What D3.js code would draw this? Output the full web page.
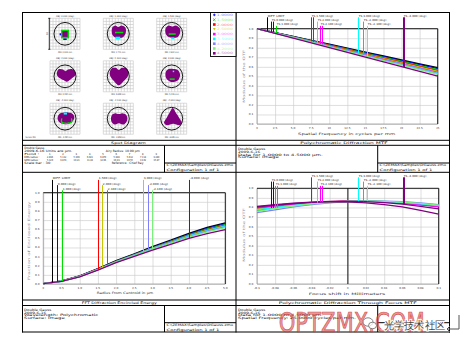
<!DOCTYPE html>
<html>
<head>
<meta charset="utf-8">
<script src="https://cdn.jsdelivr.net/npm/d3@7"></script>
<style>
body { margin: 0; background: #fff; }
svg { display: block; }
text { font-family: "DejaVu Sans", "Liberation Sans", sans-serif; }
</style>
</head>
<body>
<svg id="chart" width="464" height="347"></svg>
<script>
// field / wavelength data
var fieldColors = ['#0000ff', '#00dd00', '#ff0000', '#c8c800', '#ff00ff', '#00ffff', '#8080ff', '#7cf07c', '#800080'];
var fieldAngles = ['0.000', '1.000', '1.500', '2.000', '2.100', '3.000', '-2.000', '-2.100', '-4.000'];
var imageHeights = ['0.000', '1.741', '2.612', '3.484', '3.658', '5.229', '-3.484', '-3.658', '-6.985'];
var wavelengths = ['1.0000', '1.5000', '2.0000', '2.5000', '3.0000', '3.5000', '4.0000', '4.2000', '4.5000'];
var legendSymbols = ['plus', 'cross', 'square', 'triangle', 'square', 'square', 'square', 'square', 'square'];
var rmsRadius = ['2.836', '5.112', '5.309', '6.021', '6.870', '5.998', '5.612', '7.114', '9.240'];
var geoRadius = ['5.120', '9.874', '10.21', '11.43', '12.66', '10.93', '10.55', '13.02', '15.87'];
var airyRadius = 10.99;
var scaleBar = 30;

// spot outlines in micrometres (x right, y up), w = wavelength index
var spotShapes = [
    [
        {w: 0, pts: [[-5.4, 0.5], [-3.7, 0.5], [-3.7, -1.5], [-5.4, -1.5]]},
        {w: 0, pts: [[-1.7, -4.3], [1.7, -4.3], [1.7, -6], [-1.7, -6]]},
        {w: 1, pts: [[-4, 4], [4, 4], [4, -4.5], [-4, -4.5]]},
        {w: 8, pts: [[-2.6, 2.6], [2.6, 2.6], [2.6, -3], [-2.6, -3]]}
    ],
    [
        {w: 8, pts: [[-6, 6], [-3, 8], [0, 6.5], [3, 8], [7, 6], [7.5, 1], [5, -3], [1, -4], [-3, -3.5], [-6, -1]]},
        {w: 1, pts: [[-3.3, 2], [5, 2], [5, 0.5], [-3.3, 0.5]]},
        {w: 5, pts: [[-2.8, -2.8], [2, -2.8], [2, -5.5], [-2.8, -5.5]]}
    ],
    [
        {w: 8, pts: [[-6, 5.5], [-3, 8], [1, 7], [4, 8], [8, 5.5], [8.3, 0.5], [6, -3], [1.5, -3.8], [-3, -3.2], [-6, 0]]},
        {w: 1, pts: [[-3, 0.5], [4, 0.5], [4, -1], [-3, -1]]},
        {w: 5, pts: [[-0.5, -3.5], [2.5, -3.5], [2.5, -5], [-0.5, -5]]}
    ],
    [
        {w: 8, pts: [[-8, 4], [-6, 7], [-2, 6.5], [0.5, 5], [3, 6.5], [7, 7], [10, 4.5], [10.3, 1], [7, -2], [2, -5.3], [0, -4.5], [-5, -2], [-8, 1]]}
    ],
    [
        {w: 8, pts: [[-8.3, 5], [-6, 8], [-2, 8], [0.5, 6], [3, 8], [7.5, 8], [10, 5], [9.5, 0], [5, -5], [0.5, -8.7], [-4, -5], [-8, 0]]}
    ],
    [
        {w: 8, pts: [[-6, 4], [-3, 7], [2, 7], [6, 6], [8.3, 2], [7, -3], [3, -5.3], [-2, -5], [-5.5, -2]]},
        {w: 1, pts: [[-2, -2], [3, -2], [3, -3.5], [-2, -3.5]]},
        {w: 5, pts: [[1, 5.5], [2.5, 5.5], [2.5, 4], [1, 4]]}
    ],
    [
        {w: 8, pts: [[-7.3, 2], [-5, 5], [-1, 6], [3, 6], [7, 5], [9.3, 2], [8, -2], [4, -5], [0, -5.3], [-4, -4.5], [-7, -1.5]]},
        {w: 1, pts: [[-3.7, 0.3], [-2.7, 0.3], [-2.7, -3], [6, -3], [6, 0.3], [7, 0.3], [7, -4], [-3.7, -4]]},
        {w: 5, pts: [[-1.3, 6], [2, 6], [2, 4], [-1.3, 4]]}
    ],
    [
        {w: 8, pts: [[-7.3, 1], [-6, 4], [-3, 5.3], [0.5, 4.5], [4, 5.3], [7.5, 4], [9, 1], [8, -3.5], [5, -5.7], [0.5, -4.5], [-3.5, -5.7], [-6.5, -3.5]]}
    ],
    [
        {w: 8, pts: [[1, 10.3], [4, 6], [8, 0], [10, -4], [8, -6.3], [1.5, -5], [-5, -6.3], [-7.7, -4], [-5, 1], [-2, 6]]}
    ]
];

// polychromatic MTF
var mtfFreq = [0, 2.5, 5, 7.5, 10, 12.5, 15, 17.5, 20, 22.5, 25];
var mtfTickText = ['0', '2.5', '5.0', '7.5', '10', '12.5', '15', '17.5', '20', '22.5', '25'];
var mtfDiff = [1, 0.96, 0.919, 0.878, 0.837, 0.796, 0.755, 0.714, 0.673, 0.632, 0.591];
var mtfFields = [
    [1, 0.958, 0.916, 0.874, 0.832, 0.79, 0.748, 0.706, 0.664, 0.622, 0.58],
    [1, 0.957, 0.914, 0.871, 0.828, 0.785, 0.742, 0.699, 0.656, 0.613, 0.57],
    [1, 0.956, 0.912, 0.868, 0.824, 0.78, 0.736, 0.692, 0.648, 0.604, 0.561],
    [1, 0.956, 0.911, 0.866, 0.821, 0.776, 0.731, 0.686, 0.641, 0.596, 0.552],
    [1, 0.955, 0.909, 0.863, 0.817, 0.771, 0.725, 0.679, 0.633, 0.587, 0.542],
    [1, 0.954, 0.908, 0.862, 0.815, 0.768, 0.721, 0.674, 0.627, 0.58, 0.535],
    [1, 0.954, 0.907, 0.86, 0.813, 0.766, 0.719, 0.672, 0.624, 0.576, 0.528],
    [1, 0.953, 0.906, 0.858, 0.81, 0.762, 0.714, 0.666, 0.618, 0.57, 0.522],
    [1, 0.951, 0.902, 0.852, 0.802, 0.752, 0.702, 0.652, 0.602, 0.552, 0.502]
];
var mtfMarkers = [
    {f: -1, at: 1.38, row: 0, label: 'DIFF. LIMIT'},
    {f: 0, at: 1.98, row: 1, label: 'TS 0.000 (deg)'},
    {f: 0, at: 2.17, row: 1, label: ''},
    {f: 1, at: 2.67, row: 2, label: 'TS 1.000 (deg)'},
    {f: 2, at: 7.51, row: 0, label: 'TS 1.500 (deg)'},
    {f: 2, at: 7.75, row: 0, label: ''},
    {f: 3, at: 8.3, row: 1, label: 'TS 2.000 (deg)'},
    {f: 4, at: 8.76, row: 2, label: 'TS 2.100 (deg)'},
    {f: 4, at: 9.0, row: 2, label: ''},
    {f: 5, at: 13.97, row: 0, label: 'TS 3.000 (deg)'},
    {f: 6, at: 14.62, row: 1, label: 'TS -2.000 (deg)'},
    {f: 7, at: 15.22, row: 2, label: 'TS -2.100 (deg)'},
    {f: 8, at: 20.16, row: 0, label: 'TS -4.000 (deg)'},
    {f: 8, at: 20.38, row: 0, label: ''}
];

// encircled energy
var eeRadius = [0, 0.5, 1, 1.5, 2, 2.5, 3, 3.5, 4, 4.5, 5];
var eeTickText = ['0', '0.5', '1.0', '1.5', '2.0', '2.5', '3.0', '3.5', '4.0', '4.5', '5.0'];
var eeDiff = [0.005, 0.033, 0.088, 0.17, 0.255, 0.33, 0.41, 0.48, 0.555, 0.62, 0.67];
var eeFields = [
    [0.005, 0.032, 0.086, 0.166, 0.25, 0.325, 0.402, 0.472, 0.545, 0.608, 0.658],
    [0.005, 0.032, 0.085, 0.164, 0.247, 0.321, 0.397, 0.466, 0.538, 0.6, 0.65],
    [0.004, 0.031, 0.084, 0.162, 0.244, 0.318, 0.393, 0.461, 0.532, 0.593, 0.642],
    [0.004, 0.031, 0.083, 0.161, 0.242, 0.315, 0.389, 0.456, 0.527, 0.587, 0.636],
    [0.004, 0.031, 0.083, 0.16, 0.24, 0.312, 0.386, 0.452, 0.522, 0.581, 0.63],
    [0.004, 0.03, 0.082, 0.159, 0.243, 0.316, 0.39, 0.457, 0.526, 0.585, 0.633],
    [0.004, 0.03, 0.082, 0.158, 0.241, 0.313, 0.386, 0.452, 0.52, 0.578, 0.625],
    [0.004, 0.03, 0.081, 0.157, 0.239, 0.31, 0.382, 0.447, 0.514, 0.571, 0.617],
    [0.004, 0.029, 0.079, 0.153, 0.233, 0.302, 0.372, 0.435, 0.5, 0.552, 0.595]
];
var eeMarkers = [
    {f: -1, at: 0.23, row: 0, label: 'DIFF. LIMIT'},
    {f: 0, at: 0.385, row: 1, label: '0.000 (deg)'},
    {f: 1, at: 0.505, row: 2, label: '1.000 (deg)'},
    {f: 2, at: 1.51, row: 0, label: '1.500 (deg)'},
    {f: 3, at: 1.62, row: 1, label: '2.000 (deg)'},
    {f: 4, at: 1.75, row: 2, label: '2.100 (deg)'},
    {f: 5, at: 2.75, row: 0, label: '3.000 (deg)'},
    {f: 6, at: 2.88, row: 1, label: '-2.000 (deg)'},
    {f: 7, at: 2.99, row: 2, label: '-2.100 (deg)'},
    {f: 8, at: 3.99, row: 0, label: '-4.000 (deg)'}
];

// through focus MTF
var tfFocus = [-0.1, -0.08, -0.06, -0.04, -0.02, 0, 0.02, 0.04, 0.06, 0.08, 0.1];
var tfTickText = ['-0.1', '-0.08', '-0.06', '-0.04', '-0.02', '0', '0.02', '0.04', '0.06', '0.08', '0.1'];
var tfFields = [
    [0.77, 0.8, 0.825, 0.845, 0.858, 0.865, 0.865, 0.858, 0.845, 0.83, 0.81],
    [0.765, 0.795, 0.82, 0.84, 0.855, 0.862, 0.864, 0.86, 0.85, 0.835, 0.815],
    [0.79, 0.81, 0.83, 0.848, 0.86, 0.866, 0.866, 0.86, 0.848, 0.832, 0.812],
    [0.785, 0.808, 0.828, 0.846, 0.858, 0.865, 0.866, 0.861, 0.85, 0.835, 0.815],
    [0.795, 0.815, 0.833, 0.85, 0.861, 0.866, 0.865, 0.858, 0.845, 0.828, 0.808],
    [0.775, 0.8, 0.822, 0.842, 0.856, 0.864, 0.866, 0.862, 0.852, 0.838, 0.82],
    [0.745, 0.775, 0.805, 0.83, 0.848, 0.86, 0.866, 0.866, 0.86, 0.848, 0.83],
    [0.76, 0.79, 0.815, 0.837, 0.853, 0.862, 0.866, 0.864, 0.856, 0.843, 0.825],
    [0.81, 0.83, 0.845, 0.855, 0.862, 0.864, 0.86, 0.85, 0.835, 0.812, 0.785]
];
var tfPurpleSag = [0.805, 0.825, 0.84, 0.852, 0.86, 0.858, 0.848, 0.83, 0.805, 0.77, 0.73];
var tfMarkers = [
    {f: 0, at: -0.0843, row: 1, label: 'TS 0.000 (deg)'},
    {f: 0, at: -0.0827, row: 1, label: ''},
    {f: 1, at: -0.0799, row: 2, label: 'TS 1.000 (deg)'},
    {f: 1, at: -0.078, row: 2, label: ''},
    {f: 2, at: -0.0402, row: 0, label: 'TS 1.500 (deg)'},
    {f: 3, at: -0.034, row: 1, label: 'TS 2.000 (deg)'},
    {f: 4, at: -0.0303, row: 2, label: 'TS 2.100 (deg)'},
    {f: 4, at: -0.0285, row: 2, label: ''},
    {f: 5, at: 0.0112, row: 0, label: 'TS 3.000 (deg)'},
    {f: 6, at: 0.0163, row: 1, label: 'TS -2.000 (deg)'},
    {f: 7, at: 0.0211, row: 2, label: 'TS -2.100 (deg)'},
    {f: 8, at: 0.0604, row: 0, label: 'TS -4.000 (deg)'},
    {f: 8, at: 0.0621, row: 0, label: ''}
];

var yTickVals = [0, 0.1, 0.2, 0.3, 0.4, 0.5, 0.6, 0.7, 0.8, 0.9, 1];
var yTickText = ['0.0', '0.1', '0.2', '0.3', '0.4', '0.5', '0.6', '0.7', '0.8', '0.9', '1.0'];

var svg = d3.select('#chart');

// text squeezed/stretched to a given width (the plot font is wide and short)
function txt(g, x, y, s, fs, w, anchor, fill) {
    var x0 = anchor == 'middle' ? x - w / 2 : (anchor == 'end' ? x - w : x);
    return g.append('text')
        .attr('x', x0).attr('y', y)
        .attr('font-size', fs)
        .attr('textLength', w)
        .attr('lengthAdjust', 'spacingAndGlyphs')
        .attr('fill', fill || '#111')
        .text(s);
}

function vtxt(g, cx, cy, s, fs, w, fill) {
    return g.append('text')
        .attr('transform', 'translate(' + cx + ',' + cy + ') rotate(-90)')
        .attr('x', -w / 2).attr('y', fs * 0.35)
        .attr('font-size', fs)
        .attr('textLength', w)
        .attr('lengthAdjust', 'spacingAndGlyphs')
        .attr('fill', fill || '#111')
        .text(s);
}

function line(g, x1, y1, x2, y2, c, sw) {
    return g.append('line')
        .attr('x1', x1).attr('y1', y1).attr('x2', x2).attr('y2', y2)
        .attr('stroke', c || '#000').attr('stroke-width', sw || 1);
}

// ---------- page frame ----------
var frame = svg.append('g');
[22.5, 236, 449.5].forEach(function(x) { line(frame, x, 12, x, 332.5); });
[12.5, 140.3, 145.3, 172.3, 300, 305.5, 332].forEach(function(y) { line(frame, 22, y, 450, y); });
[[145.3, 172.3, 163], [305.5, 332, 322.7]].forEach(function(b) {
    line(frame, 164.5, b[0], 164.5, b[1]);
    line(frame, 377.7, b[0], 377.7, b[1]);
    line(frame, 164.5, b[2], 236, b[2]);
    line(frame, 377.7, b[2], 449.5, b[2]);
});

// ---------- spot diagram ----------
var spotG = svg.append('g');
var colX = [65, 118.3, 171.7];
var rowY = [33.8, 76.3, 118.7];

spotShapes.forEach(function(layers, i) {
    var cx = colX[i % 3], cy = rowY[Math.floor(i / 3)];
    var sx = d3.scaleLinear().domain([-15, 15]).range([cx - 15, cx + 15]);
    var sy = d3.scaleLinear().domain([-15, 15]).range([cy + 15.5, cy - 15.5]);
    var cell = d3.range(-15, 15.01, 3);

    cell.forEach(function(v) {
        line(spotG, sx(v), sy(-15), sx(v), sy(15), '#c4c4c4', 0.6);
        line(spotG, sx(-15), sy(v), sx(15), sy(v), '#c4c4c4', 0.6);
    });

    layers.forEach(function(l) {
        var path = d3.line()
            .x(function(p) { return sx(p[0]); })
            .y(function(p) { return sy(p[1]); })
            .curve(l.pts.length > 4 ? d3.curveCatmullRomClosed : d3.curveLinearClosed);
        spotG.append('path').attr('d', path(l.pts)).attr('fill', fieldColors[l.w]);
    });

    spotG.append('ellipse')
        .attr('cx', sx(0)).attr('cy', sy(0))
        .attr('rx', sx(airyRadius) - sx(0)).attr('ry', sy(0) - sy(airyRadius))
        .attr('fill', 'none').attr('stroke', '#000').attr('stroke-width', 0.9);

    txt(spotG, cx, sy(15) - 1.8, 'OBJ: ' + fieldAngles[i] + ' (deg)', 2.4, 18, 'middle', '#333');
    txt(spotG, cx, sy(-15) + 3.6, 'IMA: ' + imageHeights[i] + ' mm', 2.4, 14, 'middle', '#333');
});

// scale bar next to the first box
(function() {
    var sy = d3.scaleLinear().domain([-scaleBar / 2, scaleBar / 2]).range([rowY[0] + 15.5, rowY[0] - 15.5]);
    var x = colX[0] - 15.7;
    line(spotG, x, sy(-scaleBar / 2), x, sy(scaleBar / 2), '#000', 0.8);
    line(spotG, x - 1, sy(-scaleBar / 2), x + 1, sy(-scaleBar / 2), '#000', 0.8);
    line(spotG, x - 1, sy(scaleBar / 2), x + 1, sy(scaleBar / 2), '#000', 0.8);
    vtxt(spotG, x - 2.2, rowY[0], String(scaleBar), 2.4, 3, '#333');
})();

txt(spotG, 25.5, 138, 'Surface: IMA', 2.4, 10, 'start', '#333');

// wavelength legend
var leg = svg.append('g');
leg.append('rect').attr('x', 210.5).attr('y', 12.5).attr('width', 25.5).attr('height', 44)
    .attr('fill', '#fff').attr('stroke', '#000').attr('stroke-width', 0.9);
wavelengths.forEach(function(w, i) {
    var y = 14.9 + i * 4.8, x = 214.3, c = fieldColors[i], s = legendSymbols[i];
    if (s == 'plus') {
        line(leg, x - 1.3, y, x + 1.3, y, c, 0.9);
        line(leg, x, y - 1.3, x, y + 1.3, c, 0.9);
    } else if (s == 'cross') {
        line(leg, x - 1.2, y - 1.2, x + 1.2, y + 1.2, c, 0.9);
        line(leg, x - 1.2, y + 1.2, x + 1.2, y - 1.2, c, 0.9);
    } else if (s == 'triangle') {
        leg.append('path').attr('d', 'M' + (x - 1.4) + ',' + (y - 1.2) + 'L' + (x + 1.4) + ',' + (y - 1.2) + 'L' + x + ',' + (y + 1.3) + 'Z').attr('fill', c);
    } else {
        leg.append('rect').attr('x', x - 1.3).attr('y', y - 1.3).attr('width', 2.6).attr('height', 2.6).attr('fill', c);
    }
    txt(leg, 216.8, y + 1.1, w, 3.2, 16, 'start', c).attr('opacity', 0.5);
});

// ---------- panel titles and info text ----------
var info = svg.append('g');
txt(info, 128.3, 144.3, 'Spot Diagram', 3.3, 34.7, 'middle');
txt(info, 344, 144.3, 'Polychromatic Diffraction MTF', 3.3, 87.3, 'middle');
txt(info, 119.2, 304.2, 'FFT Diffraction Encircled Energy', 3.3, 75, 'middle');
txt(info, 347.8, 304.2, 'Polychromatic Diffraction Through Focus MTF', 3.3, 138, 'middle');

// spot info
txt(info, 24.3, 148.7, 'Double Gauss', 3, 20);
txt(info, 24.3, 151.5, '2009-6-16  Units are \u00b5m.', 3, 48);
txt(info, 105.7, 151.5, 'Airy Radius: 10.99 \u00b5m', 3, 34);
txt(info, 24.3, 155.2, 'Field      :', 2.7, 15);
txt(info, 24.3, 157.9, 'RMS radius :', 2.7, 15);
txt(info, 24.3, 160.6, 'GEO radius :', 2.7, 15);
rmsRadius.forEach(function(r, i) {
    var x = 47 + i * 13.3;
    txt(info, x + 2, 155.2, String(i + 1), 2.7, 1.5);
    txt(info, x, 157.9, r, 2.7, 6);
    txt(info, x, 160.6, geoRadius[i], 2.7, 6);
});
txt(info, 24.3, 164.2, 'Scale bar  : ' + scaleBar, 3, 26);
txt(info, 111.7, 164.2, 'Reference  : Chief Ray', 3, 31.7);

// MTF info
txt(info, 238, 150, 'Double Gauss', 3.2, 27.3);
txt(info, 238, 152.8, '2009-6-16', 3.2, 22.3);
txt(info, 238, 155.6, 'Data for 1.0000 to 4.5000 \u00b5m.', 3.2, 84.7);
txt(info, 238, 158.4, 'Surface: Image', 3.2, 40.7);

// EE info
txt(info, 24, 310.7, 'Double Gauss', 3.2, 27.3);
txt(info, 24, 313.5, '2009-6-16', 3.2, 22.3);
txt(info, 24, 316.3, 'Wavelength: Polychromatic', 3.2, 74.3);
txt(info, 24, 319.1, 'Surface: Image', 3.2, 40.7);

// through focus info
txt(info, 238, 310.7, 'Double Gauss', 3.2, 27.3);
txt(info, 238, 313.5, '2009-6-16', 3.2, 22.3);
txt(info, 238, 316.3, 'Data for 1.0000 to 4.5000 \u00b5m.', 3.2, 84.7);
txt(info, 238, 319.1, 'Spatial Frequency: 25.0000 cycles per mm.', 3.2, 118);

// file / configuration boxes (the through-focus one is hidden under the watermark)
[[166.5, 166], [379.5, 166], [166.5, 326.2]].forEach(function(p) {
    txt(info, p[0], p[1], 'C:\\ZEMAX\\Samples\\DGauss.zmx', 3.2, 66.7);
    txt(info, p[0], p[1] + 4.6, 'Configuration 1 of 1', 3.2, 53);
});

// ---------- generic line plot ----------
function drawPlot(o) {
    var g = svg.append('g');
    var xs = d3.scaleLinear().domain(o.xDomain).range([o.left, o.right]);
    var ys = d3.scaleLinear().domain([0, 1]).range([o.bottom, o.top]);

    g.append('g').attr('transform', 'translate(0,' + o.bottom + ')')
        .call(d3.axisBottom(xs).tickValues(o.xVals).tickSize(-(o.bottom - o.top)).tickFormat(''));
    g.append('g').attr('transform', 'translate(' + o.left + ',0)')
        .call(d3.axisLeft(ys).tickValues(yTickVals).tickSize(-(o.right - o.left)).tickFormat(''));
    g.selectAll('.domain').remove();
    g.selectAll('.tick line').attr('stroke', '#c8c8c8').attr('stroke-width', 0.6);

    line(g, o.left, o.bottom, o.right, o.bottom, '#999', 0.8);
    line(g, o.left, o.top, o.left, o.bottom, '#999', 0.8);
    line(g, o.left, o.top, o.right, o.top, '#000', 0.9);
    line(g, o.right, o.top, o.right, o.bottom, '#000', 0.9);
    if (o.zeroLine) line(g, xs(0), o.top, xs(0), o.bottom, '#000', 0.9);

    o.xVals.forEach(function(v, i) {
        var s = o.xText[i];
        txt(g, xs(v), o.bottom + 4.6, s, 2.6, s.length * 1.55, 'middle', '#333');
    });
    yTickVals.forEach(function(v, i) {
        txt(g, o.left - 3.6, ys(v) + 1, yTickText[i], 2.6, 4.6, 'end', '#333');
    });
    txt(g, o.xTitle[1], o.xTitle[2], o.xTitle[0], 3.2, o.xTitle[3], 'middle', '#333');
    vtxt(g, o.yTitle[1], o.yTitle[2], o.yTitle[0], 3.2, o.yTitle[3], '#8a8a9a');

    var path = d3.line()
        .x(function(d, i) { return xs(o.xVals[i]); })
        .y(function(d) { return ys(d); });
    o.curves.forEach(function(c) {
        g.append('path').attr('d', path(c.v)).attr('fill', 'none')
            .attr('stroke', c.color).attr('stroke-width', 1.3);
    });

    o.markers.forEach(function(m) {
        var vals = m.f < 0 ? o.diff : o.fields[m.f];
        var at = d3.scaleLinear().domain(o.xVals).range(vals);
        var x = Math.round(xs(m.at)) + 0.5;
        var top = o.rows[m.row];
        var col = m.f < 0 ? '#000' : fieldColors[m.f];
        line(g, x, top + 0.6, x, ys(at(m.at)), col, 1);
        if (m.label) txt(g, x + 0.3, top, m.label, 2.7, m.label.length * o.labelCw, 'start', '#222');
    });
    return g;
}

function curveList(diff, fields, extra) {
    var list = [];
    if (diff) list.push({v: diff, color: '#000'});
    fields.forEach(function(f, i) { list.push({v: f, color: fieldColors[i]}); });
    if (extra) list.push(extra);
    return list;
}

drawPlot({
    left: 257, right: 437.7, top: 28.7, bottom: 124,
    xDomain: [0, 25], xVals: mtfFreq, xText: mtfTickText,
    xTitle: ['Spatial Frequency in cycles per mm', 346.7, 135, 97.3],
    yTitle: ['Modulus of the OTF', 244, 76.3, 53],
    curves: curveList(mtfDiff, mtfFields),
    diff: mtfDiff, fields: mtfFields, markers: mtfMarkers,
    rows: [16.7, 21, 25.3], labelCw: 1.5
});

drawPlot({
    left: 43.3, right: 225.3, top: 192.7, bottom: 284,
    xDomain: [0, 5], xVals: eeRadius, xText: eeTickText,
    xTitle: ['Radius From Centroid in \u00b5m', 125, 294, 56.7],
    yTitle: ['Fraction of Enclosed Energy', 29.3, 240.8, 78.3],
    curves: curveList(eeDiff, eeFields),
    diff: eeDiff, fields: eeFields, markers: eeMarkers,
    rows: [179.3, 184.5, 189.7], labelCw: 1.6
});

drawPlot({
    left: 257, right: 438.7, top: 188.3, bottom: 284,
    xDomain: [-0.1, 0.1], xVals: tfFocus, xText: tfTickText, zeroLine: true,
    xTitle: ['Focus shift in Millimeters', 347, 294.7, 76.7],
    yTitle: ['Modulus of the OTF', 243.7, 235, 53.7],
    curves: curveList(null, tfFields, {v: tfPurpleSag, color: fieldColors[8]}),
    diff: null, fields: tfFields, markers: tfMarkers,
    rows: [176.7, 181, 185.3], labelCw: 1.5
});

// ---------- watermark ----------
var wm = svg.append('g');
wm.append('text')
    .attr('x', 278.7).attr('y', 331.5)
    .attr('font-family', 'Liberation Sans, sans-serif')
    .attr('font-size', 26)
    .attr('textLength', 146).attr('lengthAdjust', 'spacingAndGlyphs')
    .attr('fill', 'rgba(220,80,80,0.6)').attr('stroke', 'rgba(200,50,50,0.8)').attr('stroke-width', 0.7)
    .text('OPTZMX.COM');
wm.append('ellipse').attr('cx', 368).attr('cy', 322).attr('rx', 5).attr('ry', 4.2)
    .attr('fill', 'rgba(255,255,255,0.6)').attr('stroke', '#777').attr('stroke-width', 0.9);
wm.append('ellipse').attr('cx', 372.5).attr('cy', 325.5).attr('rx', 4).attr('ry', 3.3)
    .attr('fill', 'rgba(255,255,255,0.7)').attr('stroke', '#777').attr('stroke-width', 0.9);
wm.append('text')
    .attr('x', 383.7).attr('y', 328.6)
    .attr('font-family', '"Noto Sans CJK SC", sans-serif')
    .attr('font-size', 11)
    .attr('textLength', 61.6).attr('lengthAdjust', 'spacingAndGlyphs')
    .attr('fill', '#444').attr('stroke', '#fff').attr('stroke-width', 2).attr('paint-order', 'stroke')
    .text('光学技术社区');
wm.append('path').attr('d', 'M459,315V329H447M450,326L447,329L450,332')
    .attr('fill', 'none').attr('stroke', '#555').attr('stroke-width', 1);
</script>
</body>
</html>
